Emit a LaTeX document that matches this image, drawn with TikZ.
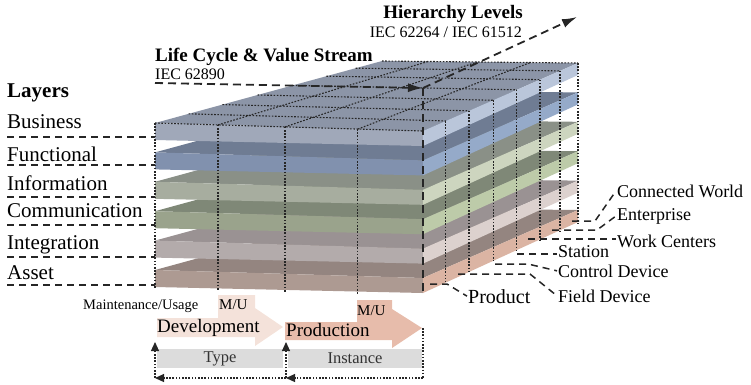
\documentclass[tikz,border=0pt]{standalone}
\usepackage{fontspec}
\setmainfont{Liberation Serif}
\usetikzlibrary{calc,arrows.meta}
\definecolor{businesstop}{RGB}{140,149,167}
\definecolor{businessfront}{RGB}{160,168,185}
\definecolor{businessside}{RGB}{186,198,218}
\definecolor{functionaltop}{RGB}{111,124,147}
\definecolor{functionalfront}{RGB}{129,145,174}
\definecolor{functionalside}{RGB}{149,170,201}
\definecolor{informationtop}{RGB}{138,144,135}
\definecolor{informationfront}{RGB}{167,173,159}
\definecolor{informationside}{RGB}{205,213,191}
\definecolor{communicationtop}{RGB}{127,136,119}
\definecolor{communicationfront}{RGB}{154,163,140}
\definecolor{communicationside}{RGB}{189,203,169}
\definecolor{integrationtop}{RGB}{154,146,147}
\definecolor{integrationfront}{RGB}{179,171,171}
\definecolor{integrationside}{RGB}{220,209,206}
\definecolor{assettop}{RGB}{148,133,128}
\definecolor{assetfront}{RGB}{173,154,146}
\definecolor{assetside}{RGB}{219,180,163}
\definecolor{devpink}{RGB}{244,226,218}
\definecolor{prodpink}{RGB}{231,188,171}
\definecolor{bargray}{RGB}{220,220,220}
\tikzset{
  grid line/.style={line width=1.1pt, dash pattern=on 1.6pt off 1.6pt, black!85},
  axis line/.style={line width=1.8pt, dash pattern=on 8pt off 5pt, black!85},
  leader/.style={line width=1.5pt, dash pattern=on 7pt off 5pt, black!85},
  loop line/.style={line width=1.1pt, dash pattern=on 1.6pt off 1.6pt, black!85},
  layer label/.style={anchor=base west, inner sep=0pt, font=\fontsize{21}{24}\selectfont},
  level label/.style={anchor=base west, inner sep=1pt, font=\fontsize{18}{21}\selectfont},
  title label/.style={inner sep=0pt, font=\bfseries\fontsize{19}{22}\selectfont},
  norm label/.style={inner sep=0pt, font=\fontsize{16}{19}\selectfont},
  lcbar/.style={fill=bargray, minimum height=19pt, inner sep=0pt, font=\fontsize{16.5}{19}\selectfont, text=black!80}
}
\begin{document}
\begin{tikzpicture}[x=1pt,y=-1pt]
\useasboundingbox (0,0) rectangle (751,384);

% corners of the top layer
\coordinate (FL) at (155,123);
\coordinate (FR) at (423,131);
\coordinate (BR) at (578,63);
\coordinate (BL) at (382,61);

% layer slabs, lowest first
\foreach \i/\ct/\cf/\cs in {5/assettop/assetfront/assetside,
    4/integrationtop/integrationfront/integrationside,
    3/communicationtop/communicationfront/communicationside,
    2/informationtop/informationfront/informationside,
    1/functionaltop/functionalfront/functionalside,
    0/businesstop/businessfront/businessside}{
  \begin{scope}[shift={(0,29.4*\i)}]
    \fill[\ct] (155,123) -- (423,131) -- (578,63) -- (382,61) -- cycle;
    \fill[\cf] (155,123) -- (423,131) -- (423,146) -- (155,140) -- cycle;
    \fill[\cs] (423,131) -- (578,63) -- (578,75) -- (423,146) -- cycle;
  \end{scope}
}

% grid on the top face
\foreach \v in {0,0.148,0.297,0.452,0.606,0.755,0.884,1}
  \draw[grid line] ($(FL)!\v!(BL)$) -- ($(FR)!\v!(BR)$);
\foreach \u in {0.235,0.485,0.757}
  \draw[grid line] ($(FL)!\u!(FR)$) -- ($(BL)!\u!(BR)$);
% front face
\foreach \u in {0,0.235,0.485,0.757}
  \draw[grid line] ($(FL)!\u!(FR)$) -- ++(0,165);
% right face
\foreach \v in {0.148,0.297,0.452,0.606,0.755,0.884,1}
  \draw[grid line] ($(FR)!\v!(BR)$) -- ++(0,161);

% axes
\coordinate (origin) at (423,88);
\coordinate (lcstart) at (155,83);
\coordinate (hlend) at (577,17);
\coordinate (layerend) at (423,293);
\draw[axis line, -{Latex[length=15pt,width=9pt]}] (lcstart) -- (origin);
\draw[axis line, -{Latex[length=15pt,width=9pt]}] (origin) -- (hlend);
\draw[axis line] (origin) -- (layerend);

% titles
\node[title label, anchor=base east] (hltitle) at (523,18) {Hierarchy Levels};
\node[norm label, anchor=base east] (hlnorm) at (522,37) {IEC 62264 / IEC 61512};
\node[title label, anchor=base west] (lctitle) at (155,61) {Life Cycle \& Value Stream};
\node[norm label, anchor=base west] (lcnorm) at (155,79) {IEC 62890};
\node[layer label, font=\bfseries\fontsize{21}{24}\selectfont] (layers) at (7,97) {Layers};

% layers
\foreach \name/\y/\ly [count=\n] in {Business/128/137, Functional/161/165,
    Information/190/197, Communication/217/225, Integration/249/257, Asset/279/285}{
  \node[layer label] (layer\n) at (7,\y) {\name};
  \coordinate (lstart\n) at (7,\ly);
  \coordinate (lend\n) at (155,\ly);
  \draw[leader] (lstart\n) -- (lend\n);
}

% hierarchy levels
\node[level label] (cworld) at (616,197) {Connected World};
\node[level label] (enter) at (616,220) {Enterprise};
\node[level label] (wcent) at (616,247) {Work Centers};
\node[level label] (stat) at (557,257) {Station};
\node[level label] (cdev) at (557,277) {Control Device};
\node[level label] (fdev) at (557,302) {Field Device};
\node[level label, font=\fontsize{20}{23}\selectfont] (prod) at (467,303) {Product};

\coordinate (cw0) at (572,221);
\coordinate (en0) at (552,230);
\coordinate (wc0) at (528,239);
\coordinate (st0) at (517,254);
\coordinate (cd0) at (495,264);
\coordinate (fd0) at (458,274);
\coordinate (pr0) at (430,284);
\draw[leader] (cw0) -- ++(23,0) -- (cworld.west);
\draw[leader] (en0) -- ++(45,0) -- (enter.west);
\draw[leader] (wc0) -- (wc0 -| wcent.west);
\draw[leader] (st0) -- (st0 -| stat.west);
\draw[leader] (cd0) -- ++(33,0) -- (cdev.west);
\draw[leader] (fd0) -- ++(72,0) -- (fdev.west);
\draw[leader] (pr0) -- ++(17,0) -- (prod.west);

% life cycle
\fill[devpink] (157,318) -- (218,318) -- (218,295) -- (255,295) -- (255,308)
  -- (283,327) -- (255,346) -- (255,337) -- (157,337) -- cycle;
\fill[prodpink] (285,322) -- (357,322) -- (357,300) -- (392,300) -- (392,309)
  -- (422,328) -- (392,348) -- (392,340) -- (285,340) -- cycle;
\node[anchor=base west, inner sep=0pt, font=\fontsize{14.5}{17}\selectfont] (maint) at (83,309) {Maintenance/Usage};
\node[anchor=base west, inner sep=0pt, font=\fontsize{15}{18}\selectfont] (devmu) at (219,309) {M/U};
\node[anchor=base west, inner sep=0pt, font=\fontsize{19}{22}\selectfont] (dev) at (157,332) {Development};
\node[anchor=base west, inner sep=0pt, font=\fontsize{15}{18}\selectfont] (prodmu) at (357,315) {M/U};
\node[anchor=base west, inner sep=0pt, font=\fontsize{19}{22}\selectfont] (produ) at (286,336) {Production};

\node[lcbar, minimum width=126pt] (type) at (220,358.5) {Type};
\node[lcbar, minimum width=134pt] (inst) at (355,358.5) {Instance};

\coordinate (prodtip) at (423,328);
\coordinate (cornerR) at (423,378);
\coordinate (cornerM) at (286,378);
\coordinate (cornerL) at (155,378);
\coordinate (typeup) at (155,342);
\coordinate (instup) at (286,342);
\draw[loop line] (prodtip) -- (cornerR);
\draw[loop line, -{Triangle[length=9pt,width=8pt]}] (cornerR) -- (cornerM);
\draw[loop line, -{Triangle[length=9pt,width=8pt]}] (cornerM) -- (cornerL);
\draw[loop line, -{Triangle[length=9pt,width=8pt]}] (cornerL) -- (typeup);
\draw[loop line, -{Triangle[length=9pt,width=8pt]}] (cornerM) -- (instup);
\end{tikzpicture}
\end{document}
